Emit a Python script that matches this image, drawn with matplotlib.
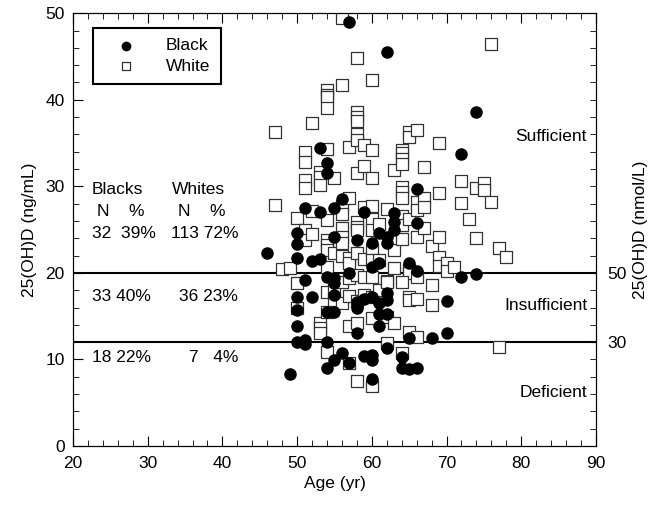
import matplotlib
matplotlib.use("Agg")
import matplotlib.pyplot as plt
from matplotlib.ticker import MultipleLocator

plt.rcParams["font.family"] = ["Liberation Sans", "DejaVu Sans"]
FS = 12.5

# black subjects: age (yr), 25(OH)D (ng/mL)
black_age = [46, 49,
             50, 50, 50, 50, 50, 50, 50,
             51, 51, 51, 51,
             52, 52,
             53, 53, 53,
             54, 54, 54, 54, 54, 54,
             55, 55, 55, 55, 55, 55, 55,
             56, 56,
             57, 57, 57,
             58, 58, 58, 58,
             59, 59, 59,
             60, 60, 60, 60, 60, 60,
             61, 61, 61, 61, 61,
             62, 62, 62, 62, 62, 62, 62,
             63, 63, 63,
             64, 64,
             65, 65, 65,
             66, 66, 66, 66,
             68,
             70, 70,
             72, 72,
             74, 74]
black_vit = [22.3, 8.3,
             24.6, 23.3, 21.7, 17.2, 15.7, 13.9, 12.0,
             27.5, 19.2, 12.2, 11.8,
             21.4, 17.2,
             34.4, 27.0, 21.6,
             32.7, 31.5, 19.5, 15.5, 12.0, 9.0,
             27.5, 24.1, 19.4, 18.8, 17.4, 15.5, 9.9,
             28.5, 10.7,
             49.0, 20.0, 9.6,
             23.8, 16.6, 16.0, 13.0,
             27.0, 17.0, 10.4,
             23.4, 20.7, 17.2, 10.5, 9.9, 7.7,
             24.6, 21.2, 16.5, 15.3, 13.9,
             45.5, 24.1, 23.4, 17.7, 16.9, 15.3, 11.3,
             26.9, 25.9, 24.9,
             10.3, 9.0,
             21.2, 12.5, 8.9,
             29.7, 25.8, 20.2, 9.0,
             12.5,
             16.8, 13.0,
             33.7, 19.5,
             38.6, 19.9]

# white subjects
white_age = [47, 47, 48, 49, 50,
             51, 51, 51, 51, 51, 51,
             52, 52, 52,
             53, 53, 53,
             54, 54, 54, 54, 54, 54, 54, 54, 54, 54,
             55, 55,
             56, 56, 56, 56, 56, 56, 56, 56,
             57, 57, 57, 57,
             58, 58, 58, 58, 58, 58, 58, 58, 58, 58, 58,
             59, 59, 59, 59,
             60, 60, 60, 60, 60, 60, 60, 60,
             61, 61, 62,
             63, 63, 63,
             64, 64, 64, 64, 64, 64, 64, 64, 64, 64,
             65, 65, 65, 65, 65,
             66, 66, 66, 66,
             67, 67, 67, 67,
             68,
             69, 69, 69, 69, 69,
             70, 70, 71, 72, 72, 73, 74, 74, 75, 75, 76, 76, 77, 78,
             # 12-20 ng/mL
             50, 50, 53, 53, 53, 54, 54, 55, 55, 56, 56,
             57, 57, 57, 58, 58, 58, 59, 59, 60, 60, 60,
             61, 62, 62, 62, 63, 64, 65, 65, 65, 66, 66, 66, 68, 68,
             # < 12 ng/mL
             54, 57, 58, 60, 62, 64, 77]
white_vit = [36.3, 27.8, 20.5, 20.6, 26.3,
             34.0, 32.8, 30.7, 29.8, 24.9, 23.8,
             37.3, 27.2, 24.5,
             31.6, 31.1, 30.1,
             41.1, 40.6, 40.3, 39.0, 34.3, 26.1, 23.8, 23.2, 22.6, 20.7,
             31.0, 22.3,
             49.5, 41.7, 27.7, 26.8, 25.2, 24.1, 23.4, 22.0,
             34.6, 28.7, 21.7, 21.2,
             44.8, 38.6, 38.0, 37.6, 36.1, 35.3, 31.5, 25.9, 25.3, 24.9, 22.3,
             34.8, 32.4, 27.6, 21.6,
             42.3, 34.2, 31.0, 27.7, 26.2, 24.9, 22.6, 21.5,
             25.6, 21.5, 27.4,
             31.9, 22.6, 20.6,
             34.2, 33.8, 33.2, 32.6, 29.9, 29.3, 28.7, 26.6, 25.5, 23.9,
             36.3, 35.7, 26.2, 20.3, 20.0,
             36.5, 28.2, 27.3, 24.1,
             32.2, 28.7, 27.6, 25.2,
             23.1,
             35.0, 29.2, 24.2, 21.8, 20.8,
             21.1, 20.2, 20.7, 30.6, 28.1, 26.2, 29.8, 24.0, 30.4, 29.6, 46.4, 28.2, 22.9, 21.8,
             18.8, 15.9, 14.2, 13.6, 13.1, 17.8, 15.5, 18.0, 16.9, 18.9, 16.5,
             19.4, 17.3, 13.9, 19.7, 14.2, 16.8, 19.5, 17.4, 19.5, 17.2, 14.8,
             18.0, 19.1, 18.9, 14.9, 14.2, 19.0, 17.2, 16.9, 13.2, 19.5, 17.0, 12.6, 18.6, 16.3,
             10.9, 9.6, 7.5, 6.9, 11.9, 10.7, 11.4]

cutoffs = [20, 12]
zone_labels = ["Sufficient", "Insufficient", "Deficient"]
zone_y = [35.7, 16.2, 6.2]
table_rows = [("32  39%", "113 72%", 24.6),
              ("33 40%", "36 23%", 17.3),
              ("18 22%", "7   4%", 10.2)]

fig = plt.figure(figsize=(6.6, 5.08), dpi=100)
ax = fig.add_axes([0.1106, 0.122, 0.7924, 0.852])

ax.scatter(white_age, white_vit, s=64, marker="s", facecolors="white",
           edgecolors="#333333", linewidths=0.9, label="White", zorder=2)
ax.scatter(black_age, black_vit, s=64, marker="o", color="black",
           label="Black", zorder=3)
for c in cutoffs:
    ax.axhline(c, color="black", lw=1.5, zorder=1)

ax.set_xlim(20, 90)
ax.set_ylim(0, 50)
ax.xaxis.set_major_locator(MultipleLocator(10))
ax.xaxis.set_minor_locator(MultipleLocator(2))
ax.yaxis.set_major_locator(MultipleLocator(10))
ax.yaxis.set_minor_locator(MultipleLocator(2))
ax.tick_params(which="both", direction="in", top=True, right=False, labelsize=FS)
ax.tick_params(which="major", length=7)
ax.tick_params(which="minor", length=4)
ax.tick_params(axis="x", pad=7)
ax.tick_params(axis="y", pad=6)
ax.set_xlabel("Age (yr)", fontsize=FS, labelpad=4)
ax.set_ylabel("25(OH)D (ng/mL)", fontsize=FS, labelpad=6)

ax2 = ax.twinx()
ax2.set_ylim(0, 50)
ax2.set_yticks([12, 20])
ax2.set_yticklabels(["30", "50"])
ax2.yaxis.set_minor_locator(MultipleLocator(2))
ax2.tick_params(which="both", direction="in", labelsize=FS)
ax2.tick_params(which="major", length=4, pad=8)
ax2.tick_params(which="minor", length=4)
ax2.set_ylabel("25(OH)D (nmol/L)", fontsize=FS, labelpad=5)

for lab, yy in zip(zone_labels, zone_y):
    ax.text(88.8, yy, lab, ha="right", va="center", fontsize=FS)

ax.text(22.5, 29.6, "Blacks", ha="left", va="center", fontsize=FS)
ax.text(33.2, 29.6, "Whites", ha="left", va="center", fontsize=FS)
ax.text(23.2, 27.1, "N    %", ha="left", va="center", fontsize=FS)
ax.text(34.0, 27.1, "N    %", ha="left", va="center", fontsize=FS)
for b, w, yy in table_rows:
    ax.text(22.5, yy, b, ha="left", va="center", fontsize=FS)
    ax.text(42.1, yy, w, ha="right", va="center", fontsize=FS)

handles, labels = ax.get_legend_handles_labels()
leg = ax.legend(handles[::-1], labels[::-1], loc="upper left",
                bbox_to_anchor=(0.038, 0.966), fontsize=FS, fancybox=False,
                edgecolor="black", framealpha=1, handletextpad=1.0,
                handlelength=2.6, borderpad=0.6, markerscale=0.75,
                borderaxespad=0, labelspacing=0.3)
leg.get_frame().set_linewidth(1.5)

fig.savefig("out.png", dpi=100)
